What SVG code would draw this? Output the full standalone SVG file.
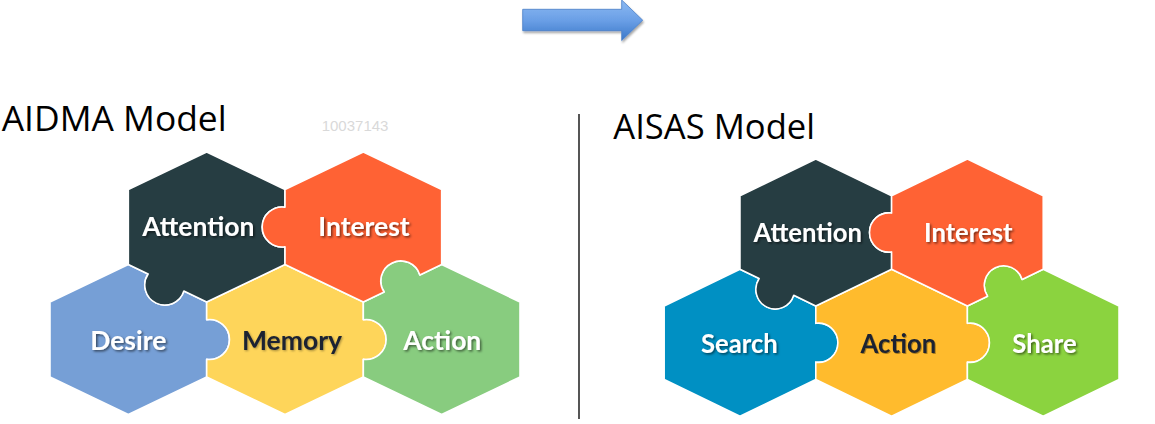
<svg xmlns="http://www.w3.org/2000/svg" width="1155" height="424" viewBox="0 0 1155 424">
  <defs>
    <linearGradient id="arrowGrad" x1="0" y1="0" x2="0" y2="1">
      <stop offset="0" stop-color="#8cbaf3"/>
      <stop offset="0.5" stop-color="#6a9fe6"/>
      <stop offset="1" stop-color="#3b78c9"/>
    </linearGradient>
    <filter id="ts" x="-10%" y="-30%" width="125%" height="170%">
      <feDropShadow dx="1.5" dy="1.5" stdDeviation="0.9" flood-color="#000" flood-opacity="0.55"/>
    </filter>
    <filter id="tsd" x="-10%" y="-30%" width="125%" height="170%">
      <feDropShadow dx="1" dy="1" stdDeviation="0.8" flood-color="#000" flood-opacity="0.35"/>
    </filter>
    <filter id="as" x="-10%" y="-20%" width="125%" height="160%">
      <feDropShadow dx="1" dy="2" stdDeviation="1.2" flood-color="#000" flood-opacity="0.35"/>
    </filter>
  </defs>
  <style>
    .piece { stroke: #ffffff; stroke-width: 1.6; stroke-linejoin: round; }
    .lbl { font-family: Lato, "Open Sans", "Liberation Sans", sans-serif; font-weight: 700; font-size: 26.5px; text-anchor: middle; }
    .w { fill: #ffffff; filter: url(#ts); }
    .d { fill: #1c2331; filter: url(#tsd); }
    .title { font-family: "Open Sans", "Liberation Sans", sans-serif; font-size: 34px; fill: #000000; }
    .dark { fill: #263d42; }
    .orange { fill: #ff6234; }
  </style>
  <rect width="1155" height="424" fill="#ffffff"/>

  <!-- connectors: transition arrow -->
  <g id="connectors">
    <polygon points="522.7,9.3 621.7,9.3 621.7,0 642.7,20.2 621.7,40.6 621.7,30.7 522.7,30.7" fill="url(#arrowGrad)" stroke="#4a7fc6" stroke-width="0.8" filter="url(#as)"/>
  </g>

  <!-- titles -->
  <text id="title-aidma" class="title" x="1.7" y="131" textLength="225" lengthAdjust="spacingAndGlyphs">AIDMA Model</text>
  <text id="watermark" x="321.7" y="131" font-family="Liberation Sans, Arial, sans-serif" font-size="15" fill="#d9d9d9">10037143</text>
  <text id="title-aisas" class="title" x="613.3" y="139.3" textLength="201.7" lengthAdjust="spacingAndGlyphs">AISAS Model</text>
  <line id="divider" x1="579" y1="114" x2="579" y2="419" stroke="#2b2b2b" stroke-width="1.6"/>

  <!-- AIDMA model -->
  <g id="aidma">
    <g id="aidma-desire">
      <path class="piece" fill="#769fd6" d="M128.33,264.5 L148.14,273.98 A20,20 0 1 0 183.86,291.08 L206.67,302 L206.67,319.7 A20,20 0 1 1 206.67,359.3 L206.67,377 L128.33,414.5 L50,377 L50,302 Z"/>
      <text class="lbl w" x="128.3" y="350">Desire</text>
    </g>
    <g id="aidma-memory">
      <path class="piece" fill="#fed55a" d="M285,264.5 L363.33,302 L363.33,319.7 A20,20 0 1 1 363.33,359.3 L363.33,377 L285,414.5 L206.67,377 L206.67,359.3 A20,20 0 1 0 206.67,319.7 L206.67,302 Z"/>
      <text class="lbl d" x="292" y="350">Memory</text>
    </g>
    <g id="aidma-action">
      <path class="piece" fill="#88cc7f" d="M441.67,264.5 L520,302 L520,377 L441.67,414.5 L363.33,377 L363.33,359.3 A20,20 0 1 0 363.33,319.7 L363.33,302 L384.14,292.04 A20,20 0 1 1 419.86,274.94 Z"/>
      <text class="lbl w" x="442.3" y="350">Action</text>
    </g>
    <g id="aidma-attention">
      <path class="piece dark" d="M206.67,152 L285,189.5 L285,207.2 A20,20 0 1 0 285,246.8 L285,264.5 L206.67,302 L183.86,291.08 A20,20 0 1 1 148.14,273.98 L128.33,264.5 L128.33,189.5 Z"/>
      <text class="lbl w" x="198.3" y="236">Attention</text>
    </g>
    <g id="aidma-interest">
      <path class="piece orange" d="M363.33,152 L441.67,189.5 L441.67,264.5 L419.86,274.94 A20,20 0 1 0 384.14,292.04 L363.33,302 L285,264.5 L285,246.8 A20,20 0 1 1 285,207.2 L285,189.5 Z"/>
      <text class="lbl w" x="364" y="236">Interest</text>
    </g>
  </g>

  <!-- AISAS model (same layout, scaled) -->
  <g id="aisas" transform="matrix(0.9677 0 0 0.98 615.8 10.04)">
    <g id="aisas-search">
      <path class="piece" fill="#0090c3" d="M128.33,264.5 L148.14,273.98 A20,20 0 1 0 183.86,291.08 L206.67,302 L206.67,319.7 A20,20 0 1 1 206.67,359.3 L206.67,377 L128.33,414.5 L50,377 L50,302 Z"/>
      <text class="lbl w" x="127.8" y="350.3">Search</text>
    </g>
    <g id="aisas-action">
      <path class="piece" fill="#ffbb2d" d="M285,264.5 L363.33,302 L363.33,319.7 A20,20 0 1 1 363.33,359.3 L363.33,377 L285,414.5 L206.67,377 L206.67,359.3 A20,20 0 1 0 206.67,319.7 L206.67,302 Z"/>
      <text class="lbl d" x="292" y="350.3">Action</text>
    </g>
    <g id="aisas-share">
      <path class="piece" fill="#8bd33f" d="M441.67,264.5 L520,302 L520,377 L441.67,414.5 L363.33,377 L363.33,359.3 A20,20 0 1 0 363.33,319.7 L363.33,302 L384.14,292.04 A20,20 0 1 1 419.86,274.94 Z"/>
      <text class="lbl w" x="443" y="350.3">Share</text>
    </g>
    <g id="aisas-attention">
      <path class="piece dark" d="M206.67,152 L285,189.5 L285,207.2 A20,20 0 1 0 285,246.8 L285,264.5 L206.67,302 L183.86,291.08 A20,20 0 1 1 148.14,273.98 L128.33,264.5 L128.33,189.5 Z"/>
      <text class="lbl w" x="198.3" y="236.4">Attention</text>
    </g>
    <g id="aisas-interest">
      <path class="piece orange" d="M363.33,152 L441.67,189.5 L441.67,264.5 L419.86,274.94 A20,20 0 1 0 384.14,292.04 L363.33,302 L285,264.5 L285,246.8 A20,20 0 1 1 285,207.2 L285,189.5 Z"/>
      <text class="lbl w" x="364.2" y="236.4">Interest</text>
    </g>
  </g>
</svg>
